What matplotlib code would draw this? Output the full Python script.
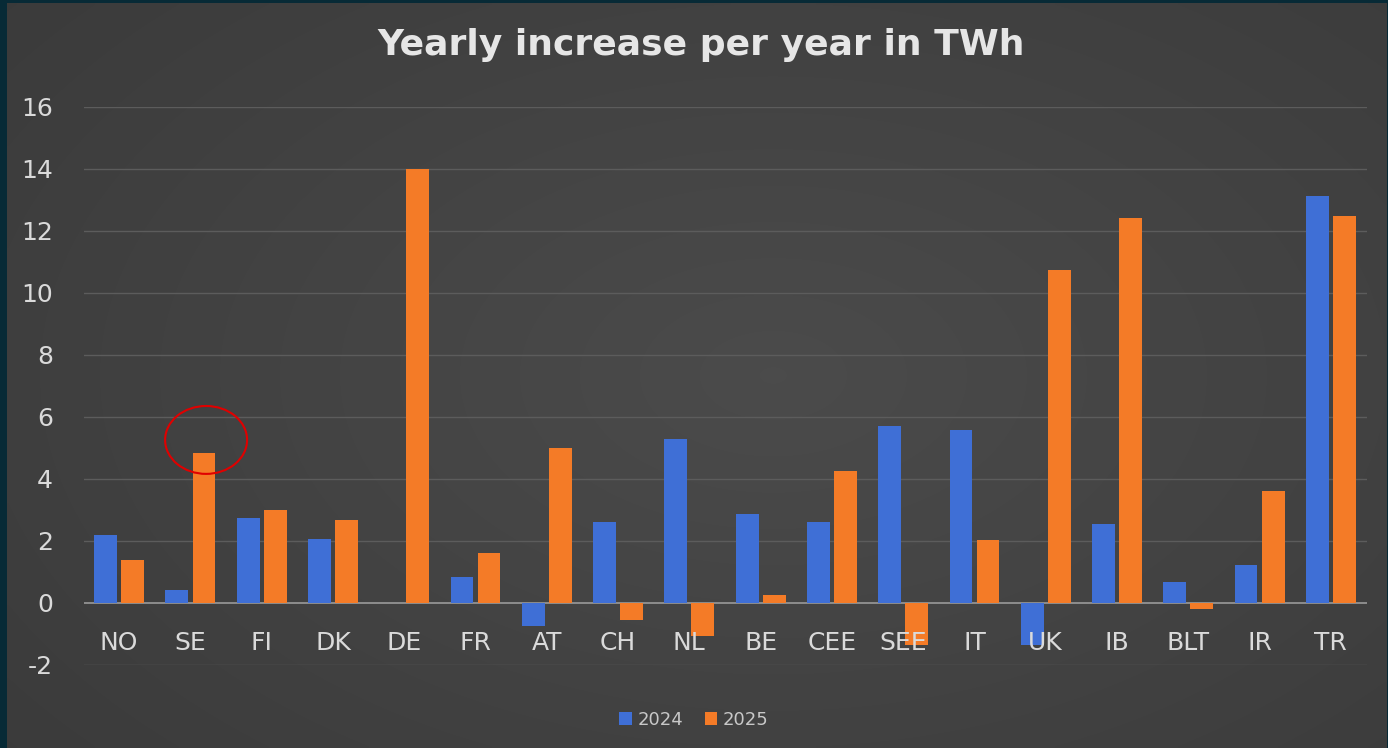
import numpy as np
import matplotlib
matplotlib.use("Agg")
import matplotlib.pyplot as plt
from matplotlib.patches import Ellipse

plt.rcParams["axes.unicode_minus"] = False

categories = ["NO", "SE", "FI", "DK", "DE", "FR", "AT", "CH", "NL", "BE",
              "CEE", "SEE", "IT", "UK", "IB", "BLT", "IR", "TR"]
series_names = ["2024", "2025"]
v2024 = [2.2, 0.42, 2.74, 2.06, 0.0, 0.84, -0.75, 2.6, 5.3, 2.87,
         2.6, 5.7, 5.58, -1.35, 2.55, 0.68, 1.23, 13.13]
v2025 = [1.4, 4.84, 3.0, 2.68, 14.0, 1.6, 5.0, -0.55, -1.06, 0.26,
         4.26, -1.35, 2.03, 10.74, 12.42, -0.2, 3.61, 12.48]
yticks = [-2, 0, 2, 4, 6, 8, 10, 12, 14, 16]
title = "Yearly increase per year in TWh"

W, H = 1388, 748
fig = plt.figure(figsize=(W / 100, H / 100), dpi=100)
fig.patch.set_facecolor("#072a36")

# background panel with soft gradient
bg = fig.add_axes([7 / W, 0, 1 - 9 / W, 1 - 3 / H])
bg.set_axis_off()
gx = np.linspace(-1, 1, 400)
gy = np.linspace(-1, 1, 220)
X, Y = np.meshgrid(gx, gy)
R = np.sqrt((X * 0.9 - 0.1) ** 2 + (Y * 0.8) ** 2)
shade = 0.295 - 0.07 * np.clip(R, 0, 1.4) / 1.4
img = np.dstack([shade, shade, shade])
bg.imshow(img, aspect="auto", extent=[0, 1, 0, 1], interpolation="bilinear")
bg.set_xlim(0, 1)
bg.set_ylim(0, 1)

left_px, right_px = 83.5, 1366.5
ax = fig.add_axes([left_px / W, 1 - 665 / H, (right_px - left_px) / W, (665 - 107) / H])
ax.set_facecolor("none")
x = np.arange(len(categories))
bw = 0.32
off = 0.19
ax.bar(x - off, v2024, bw, color="#3f6fd6", label=series_names[0], zorder=2)
ax.bar(x + off, v2025, bw, color="#f47b27", label=series_names[1], zorder=2)

for t in yticks:
    ax.axhline(t, color="#5c5c5c" if t != 0 else "#9a9a9a", lw=1.2 if t == 0 else 1.0, zorder=0.5)

ax.set_xlim(-0.5, len(categories) - 0.5)
ax.set_ylim(-2, 16)
ax.set_yticks(yticks)
ax.set_xticks(x)
ax.set_xticklabels(categories)
for s in ax.spines.values():
    s.set_visible(False)
ax.set_axisbelow(False)
ax.tick_params(axis="both", length=0, colors="#dadada")
ax.tick_params(axis="y", pad=22, labelsize=18)
ax.spines["bottom"].set_position(("data", 0))
ax.tick_params(axis="x", pad=20, labelsize=18)
for lab in ax.get_xticklabels():
    lab.set_zorder(5)

ell = Ellipse((1.22, 5.26), 1.15, 2.19, fill=False, edgecolor="#e00000", lw=1.5, zorder=6)
ax.add_patch(ell)

fig.text(0.505, 1 - 45 / H, title, ha="center", va="center", fontsize=26,
         fontweight="bold", color="#e6e6e6")

leg = ax.legend(loc="center", bbox_to_anchor=(0.5, (748 - 720) / H), bbox_transform=fig.transFigure,
                ncol=2, frameon=False, fontsize=13, handlelength=0.7, handleheight=0.7,
                handletextpad=0.3, columnspacing=1.2, labelcolor="#c8c8c8")

fig.savefig("out.png", dpi=100, facecolor=fig.get_facecolor())
